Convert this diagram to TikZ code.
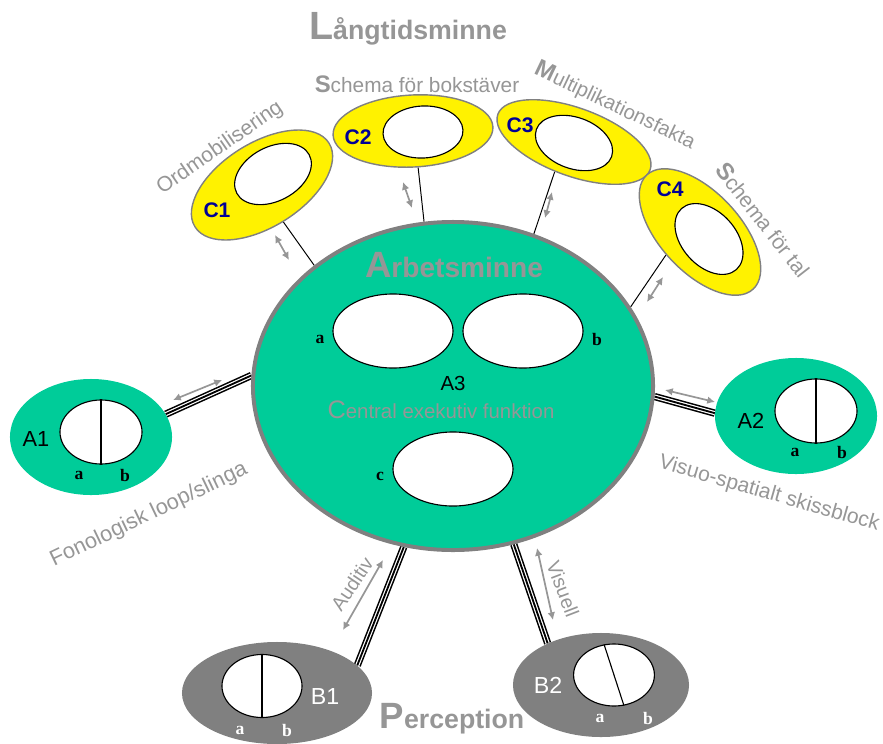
\documentclass[tikz,border=0pt]{standalone}
\usepackage{fontspec}
\setmainfont{Liberation Sans}
\newfontfamily\timesbf{Liberation Serif}
\usetikzlibrary{shapes.geometric,arrows.meta,backgrounds}
\definecolor{memgreen}{RGB}{0,204,153}
\definecolor{rimgrey}{RGB}{128,128,128}
\definecolor{txtgrey}{RGB}{150,150,150}
\definecolor{cblue}{RGB}{0,0,150}
\newcommand{\fsz}[1]{\fontsize{#1}{#1}\selectfont}
\tikzset{
  blob/.style={ellipse,inner sep=0pt},
  cell/.style={ellipse,inner sep=0pt,draw=black,fill=white,line width=0.8pt},
  ltm/.style={blob,fill=yellow,draw=rimgrey,line width=1pt},
  tripleline/.style={line width=1.3pt,preaction={draw,line width=5.2pt},preaction={draw,white,line width=3pt}},
  biarrow/.style={draw=txtgrey,line width=1.2pt,{Latex[length=5.5pt,width=5.5pt]}-{Latex[length=5.5pt,width=5.5pt]}},
  grey/.style={text=txtgrey},
  sublbl/.style={text=black,font=\timesbf\bfseries\fsz{12.5}},
}
\begin{document}
\begin{tikzpicture}[x=0.025cm,y=-0.025cm]
    \useasboundingbox (0,0) rectangle (883,744);
    %% Arbetsminne
    \node[blob,fill=memgreen,draw=rimgrey,line width=2.8pt,minimum width=10cm,minimum height=8.2cm] (A3) at (453,386) {};
    \node[cell,minimum width=3cm,minimum height=1.85cm] (A3a) at (393,331) {};
    \node[cell,minimum width=3cm,minimum height=1.85cm] (A3b) at (523,331) {};
    \node[cell,minimum width=3cm,minimum height=1.85cm] (A3c) at (453,469) {};
    \node[sublbl] (la3) at (320,339) {a};
    \node[sublbl] (lb3) at (597,339) {b};
    \node[sublbl] (lc3) at (380,476) {c};
    \node[font=\fsz{14.5}] (n3) at (453,383) {A3};
    \node[grey,font=\bfseries\fsz{20}] (wm) at (454,265) {{\fsz{26}A}rbetsminne};
    \node[grey,font=\fsz{14.5}] (cef) at (441,410) {{\fsz{18}C}entral exekutiv funktion};
    %% A1, A2
    \node[blob,fill=memgreen,minimum width=4.05cm,minimum height=2.9cm] (A1) at (91,437) {};
    \node[cell,minimum width=2.05cm,minimum height=1.6cm] (A1in) at (101,432) {};
    \draw[line width=0.8pt] (A1in.north) -- (A1in.south);
    \node[font=\fsz{15.5}] (n1) at (36,439) {A1};
    \node[sublbl] (la1) at (79,475) {a};
    \node[sublbl] (lb1) at (125,475) {b};
    \node[blob,fill=memgreen,minimum width=4.05cm,minimum height=2.9cm] (A2) at (796,416) {};
    \node[cell,minimum width=2.05cm,minimum height=1.6cm] (A2in) at (816,411) {};
    \draw[line width=0.8pt] (A2in.north) -- (A2in.south);
    \node[font=\fsz{15.5}] (n2) at (751,421) {A2};
    \node[sublbl] (la2) at (795,452) {a};
    \node[sublbl] (lb2) at (842,452) {b};
    %% B1, B2
    \node[blob,fill=rimgrey,minimum width=4.75cm,minimum height=2.55cm] (B1) at (277,693) {};
    \node[cell,minimum width=2cm,minimum height=1.575cm] (B1in) at (262,686) {};
    \draw[line width=0.8pt] (B1in.north) -- (B1in.south);
    \node[text=white,font=\fsz{16.5}] (m1) at (325,697) {B1};
    \node[sublbl,text=white] (la4) at (240,730) {a};
    \node[sublbl,text=white] (lb4) at (287,730) {b};
    \node[blob,fill=rimgrey,minimum width=4.4cm,minimum height=2.6cm] (B2) at (601,685) {};
    \node[cell,minimum width=2.02cm,minimum height=1.55cm] (B2in) at (614,675) {};
    \draw[line width=0.8pt] (B2in.108) -- (B2in.-72);
    \node[text=white,font=\fsz{16.5}] (m2) at (548,685) {B2};
    \node[sublbl,text=white] (la5) at (600,718) {a};
    \node[sublbl,text=white] (lb5) at (648,718) {b};
    %% C1 - C4
    \node[ltm,rotate=32,minimum width=3.95cm,minimum height=2.1cm] (C1) at (262,185) {};
    \node[cell,rotate=28,minimum width=2.05cm,minimum height=1.35cm] (C1in) at (273,174) {};
    \node[ltm,rotate=3,minimum width=4cm,minimum height=1.8cm] (C2) at (413,131) {};
    \node[cell,rotate=3,minimum width=2cm,minimum height=1.3cm] (C2in) at (423,132) {};
    \node[ltm,rotate=-20,minimum width=4.05cm,minimum height=1.7cm] (C3) at (574,142) {};
    \node[cell,rotate=-20,minimum width=2cm,minimum height=1.28cm] (C3in) at (574,143) {};
    \node[ltm,rotate=-47,minimum width=3.9cm,minimum height=2cm] (C4) at (700,232) {};
    \node[cell,rotate=-48,minimum width=2.05cm,minimum height=1.35cm] (C4in) at (709,239) {};
    \node[text=cblue,font=\bfseries\fsz{15}] (k1) at (217,210) {C1};
    \node[text=cblue,font=\bfseries\fsz{15}] (k2) at (358,137) {C2};
    \node[text=cblue,font=\bfseries\fsz{15}] (k3) at (520,125) {C3};
    \node[text=cblue,font=\bfseries\fsz{15}] (k4) at (670,189) {C4};
    %% Connectors
    \begin{scope}[on background layer]
        \draw[tripleline] (A1.17) -- (A3.177);
        \draw[tripleline] (A3.-3.4) -- (A2.178);
        \draw[tripleline] (A3.-107) -- (B1.19);
        \draw[tripleline] (A3.-69.6) -- (B2.142);
        \draw[line width=0.7pt] (C1.-92.6) -- (A3.139);
        \draw[line width=0.7pt] (C2.-85) -- (A3.100);
        \draw[line width=0.7pt] (C3.-103.7) -- (A3.62);
        \draw[line width=0.7pt] (C4.-99) -- (A3.24);
    \end{scope}
    %% Arrows
    \draw[biarrow] (173,400) -- (222,380);
    \draw[biarrow] (665,390) -- (715,402);
    \draw[biarrow] (383,560) -- (343,630);
    \draw[biarrow] (537,548) -- (553,620);
    \draw[biarrow] (275,235) -- (289,260);
    \draw[biarrow] (403,182) -- (412,208);
    \draw[biarrow] (552,192) -- (545,218);
    \draw[biarrow] (663,277) -- (647,302);
    %% Labels
    \node[grey,font=\bfseries\fsz{19}] (ltmt) at (408,29) {{\fsz{28}L}ångtidsminne};
    \node[grey,font=\fsz{14.8}] (t2) at (417,84) {{\bfseries\fsz{17}S}chema för bokstäver};
    \node[grey,font=\fsz{15},rotate=34.6] (t1) at (220,148) {Ordmobilisering};
    \node[grey,font=\fsz{14.5},rotate=-25.4] (t3) at (615,106) {{\bfseries\fsz{17}M}ultiplikationsfakta};
    \node[grey,font=\fsz{15},rotate=-52] (t4) at (763,220) {{\bfseries\fsz{17}S}chema för tal};
    \node[grey,font=\fsz{15.5},rotate=25.6] (t5) at (149,515) {Fonologisk loop/slinga};
    \node[grey,font=\fsz{15},rotate=-16] (t6) at (769,494) {Visuo-spatialt skissblock};
    \node[grey,font=\fsz{14},rotate=56] (t7) at (352,584) {Auditiv};
    \node[grey,font=\fsz{14},rotate=-69] (t8) at (563,589) {Visuell};
    \node[grey,font=\bfseries\fsz{19}] (perc) at (452,719) {{\fsz{26}P}erception};
\end{tikzpicture}
\end{document}
